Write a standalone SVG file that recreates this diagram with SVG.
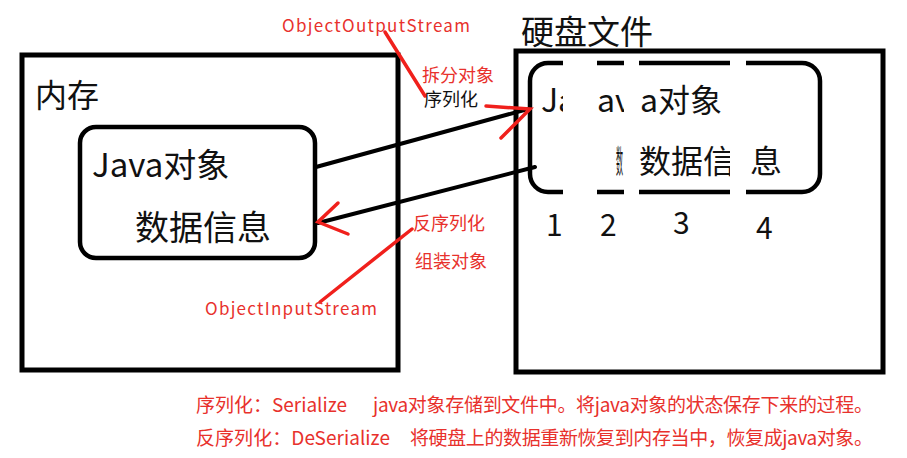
<svg xmlns="http://www.w3.org/2000/svg" width="907" height="458" viewBox="0 0 907 458">
<style>
.box{fill:none;stroke:#000;stroke-width:5}
.rbox{fill:none;stroke:#000;stroke-width:4.5}
.blk{font-family:"Noto Sans CJK SC","Noto Sans",sans-serif;fill:#111}
.red{font-family:"Noto Sans CJK SC","Noto Sans",sans-serif;fill:#e8312c}
.ln{stroke:#000;stroke-width:4;stroke-linecap:round;fill:none}
.rl{stroke:#f0201c;stroke-width:3.5;stroke-linecap:round;fill:none}
.band{fill:#fff}
</style>
<rect width="907" height="458" fill="#fff"/>
<g id="memory">
<rect class="box" x="22" y="55" width="376" height="315"/>
<text class="blk" x="35" y="107" font-size="32">内存</text>
</g>
<g id="java-object">
<rect class="rbox" x="80" y="127" width="235" height="131" rx="16"/>
<text class="blk" x="92" y="177" font-size="33">Java对象</text>
<text class="blk" x="135" y="240" font-size="34">数据信息</text>
</g>
<g id="disk">
<rect class="box" x="516" y="51" width="367" height="321"/>
<text class="blk" x="521" y="44" font-size="33">硬盘文件</text>
</g>
<g id="disk-object">
<rect class="rbox" x="530" y="63" width="290" height="129" rx="18"/>
<text class="blk" x="541" y="112" font-size="32">Ja</text>
<text class="blk" x="597" y="112" font-size="32">av</text>
<text class="blk" x="640" y="112" font-size="32">a对象</text>
<text class="blk" transform="translate(616,173) scale(0.22,1)" x="0" y="0" font-size="32">数</text>
<text class="blk" x="639" y="173" font-size="32">数据信</text>
<text class="blk" x="750" y="173" font-size="32">息</text>
<rect class="band" x="563" y="56" width="34" height="142"/>
<rect class="band" x="624" y="56" width="15" height="142"/>
<rect class="band" x="730" y="56" width="16" height="142"/>
<text class="blk" x="546" y="236" font-size="30">1</text>
<text class="blk" x="600" y="236" font-size="30">2</text>
<text class="blk" x="673" y="234" font-size="30">3</text>
<text class="blk" x="756" y="239" font-size="30">4</text>
</g>
<g id="connectors">
<line class="ln" x1="316" y1="167" x2="528" y2="109"/>
<line class="ln" x1="535" y1="167" x2="318" y2="223"/>
<polyline class="rl" points="486,106 530,109 501,138"/>
<polyline class="rl" points="338,203 318,222 348,234"/>
<line class="rl" x1="385" y1="32" x2="425" y2="96"/>
<line class="rl" x1="320" y1="302" x2="412" y2="229"/>
</g>
<g id="labels">
<text class="red" x="282" y="32" font-size="17" textLength="188">ObjectOutputStream</text>
<text class="red" x="422" y="82" font-size="18">拆分对象</text>
<text class="blk" x="424" y="106" font-size="18">序列化</text>
<text class="red" x="413" y="230" font-size="18">反序列化</text>
<text class="red" x="415" y="268" font-size="18">组装对象</text>
<text class="red" x="205" y="315" font-size="17" textLength="172">ObjectInputStream</text>
<text class="red" x="196" y="412" font-size="19" textLength="151">序列化：Serialize</text>
<text class="red" x="373" y="412" font-size="19" textLength="500">java对象存储到文件中。将java对象的状态保存下来的过程。</text>
<text class="red" x="196" y="445" font-size="19" textLength="194">反序列化：DeSerialize</text>
<text class="red" x="410" y="445" font-size="19" textLength="463">将硬盘上的数据重新恢复到内存当中，恢复成java对象。</text>
</g>
</svg>
